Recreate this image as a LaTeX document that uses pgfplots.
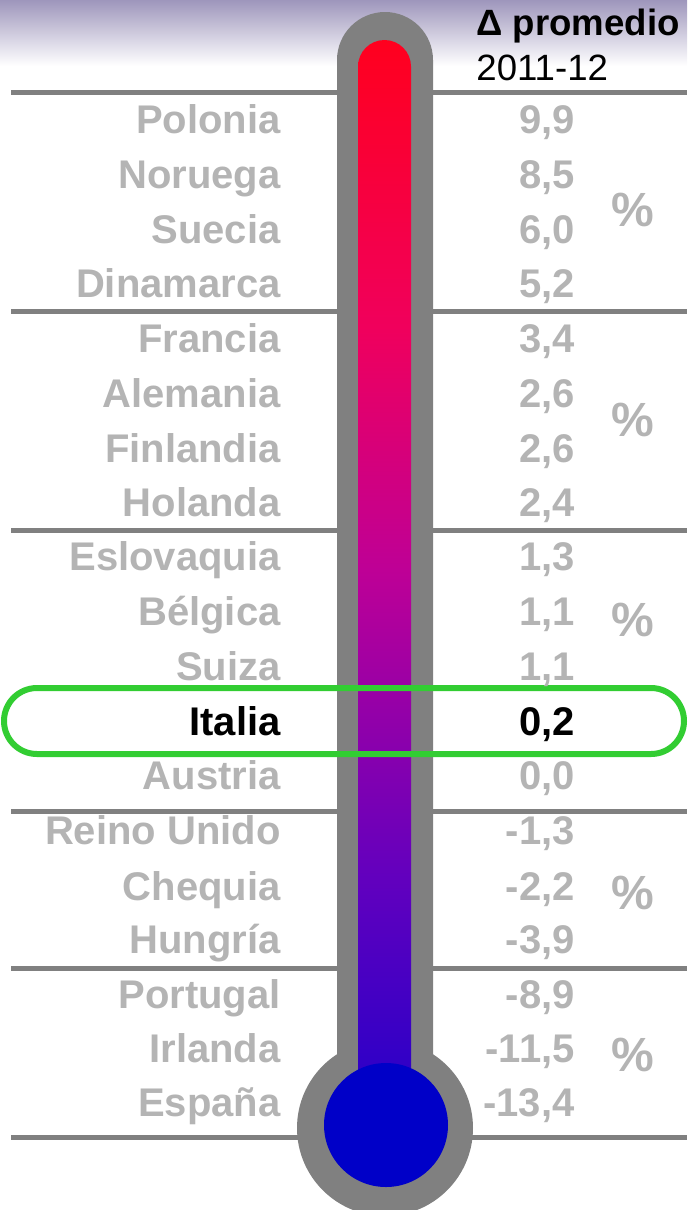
\documentclass[border=0pt]{standalone}
\usepackage{fontspec}
\setmainfont{Liberation Sans}
\usepackage{pgfplots}
\usepackage{pgfplotstable}
\pgfplotsset{compat=1.18}
\definecolor{lblgrey}{RGB}{180,180,180}
\definecolor{tubegrey}{RGB}{128,128,128}
\definecolor{hlgreen}{RGB}{50,205,50}
\definecolor{topred}{RGB}{255,0,30}
\definecolor{cA}{RGB}{240,0,92}
\definecolor{cB}{RGB}{190,0,150}
\definecolor{cC}{RGB}{98,0,190}
\definecolor{botblue}{RGB}{40,0,200}
\definecolor{bulbblue}{RGB}{0,0,200}
\definecolor{bgtop}{RGB}{158,150,188}
\pgfdeclareverticalshading{thermo}{100bp}{color(0bp)=(botblue); color(25bp)=(botblue); color(35.5bp)=(cC); color(50bp)=(cB); color(61.5bp)=(cA); color(75bp)=(topred); color(100bp)=(topred)}

\pgfplotstableread[col sep=comma]{
y,name,value
119,Polonia,9.9
174,Noruega,8.5
229,Suecia,6.0
283,Dinamarca,5.2
338,Francia,3.4
393,Alemania,2.6
448,Finlandia,2.6
502,Holanda,2.4
556,Eslovaquia,1.3
611,Bélgica,1.1
666,Suiza,1.1
775,Austria,0.0
830,Reino Unido,-1.3
886,Chequia,-2.2
939,Hungría,-3.9
994,Portugal,-8.9
1048,Irlanda,-11.5
1102,España,-13.4
}\datagrey

\pgfplotstableread[col sep=comma]{
y,name,value
721,Italia,0.2
}\dataitalia

\begin{document}
\begin{tikzpicture}
\begin{axis}[
  scale only axis, width=343.5pt, height=605pt,
  xmin=0, xmax=687, ymin=0, ymax=1210, y dir=reverse,
  hide axis, clip=false,
  /pgf/number format/.cd, use comma, fixed, fixed zerofill, precision=1, assume math mode=true,
]
% background gradient
\shade[top color=bgtop, bottom color=white] (axis cs:0,0) rectangle (axis cs:687,66);
% separator lines
\foreach \yy in {92,311,530,811,968,1137}{
  \edef\temp{\noexpand\draw[tubegrey, line width=2.5pt] (axis cs:11,\yy) -- (axis cs:687,\yy);}
  \temp
}
% thermometer
\fill[tubegrey, rounded corners=24pt] (axis cs:337,12) rectangle (axis cs:433,1110);
\fill[tubegrey] (axis cs:385,1128) circle[radius=44pt];
\shade[shading=thermo, rounded corners=13.25pt] (axis cs:358,40) rectangle (axis cs:411,1100);
\fill[bulbblue] (axis cs:386,1125) circle[radius=31pt];

% names and values
\addplot[draw=none, mark=none, nodes near coords, point meta=explicit symbolic,
  nodes near coords align={anchor=base east},
  every node near coord/.append style={inner sep=0pt, anchor=base east, text=lblgrey, font=\fontsize{20}{22}\selectfont\bfseries}]
  table[x expr=281, y expr=\thisrow{y}+14, meta=name] {\datagrey};
\addplot[draw=none, mark=none, nodes near coords, point meta=explicit,
  nodes near coords align={anchor=base east},
  every node near coord/.append style={inner sep=0pt, anchor=base east, text=lblgrey, font=\fontsize{20}{22}\selectfont\bfseries}]
  table[x expr=575, y expr=\thisrow{y}+14, meta=value] {\datagrey};
\addplot[draw=none, mark=none, nodes near coords, point meta=explicit symbolic,
  nodes near coords align={anchor=base east},
  every node near coord/.append style={inner sep=0pt, anchor=base east, text=black, font=\fontsize{20}{22}\selectfont\bfseries}]
  table[x expr=281, y expr=\thisrow{y}+14, meta=name] {\dataitalia};
\addplot[draw=none, mark=none, nodes near coords, point meta=explicit,
  nodes near coords align={anchor=base east},
  every node near coord/.append style={inner sep=0pt, anchor=base east, text=black, font=\fontsize{20}{22}\selectfont\bfseries}]
  table[x expr=575, y expr=\thisrow{y}+14, meta=value] {\dataitalia};

% percent signs
\foreach \yy in {210,420,620,893,1055}{
  \edef\temp{\noexpand\node[text=lblgrey, font=\noexpand\fontsize{24}{26}\noexpand\selectfont\noexpand\bfseries, inner sep=0pt] at (axis cs:633,\yy) {\noexpand\%};}
  \temp
}
% header
\node[anchor=base west, inner sep=0pt, font=\fontsize{18.3}{20}\selectfont\bfseries] at (axis cs:476,35) {Δ promedio};
\node[anchor=base west, inner sep=0pt, font=\fontsize{18.3}{20}\selectfont] at (axis cs:476,80) {2011-12};

% highlight box
\draw[hlgreen, line width=3pt, rounded corners=16.5pt] (axis cs:4,688) rectangle (axis cs:684,754);

\coordinate (SW) at (axis cs:0,1210);
\coordinate (NE) at (axis cs:687,0);
\end{axis}
\pgfresetboundingbox
\path[use as bounding box] (SW) rectangle (NE);
\end{tikzpicture}
\end{document}
